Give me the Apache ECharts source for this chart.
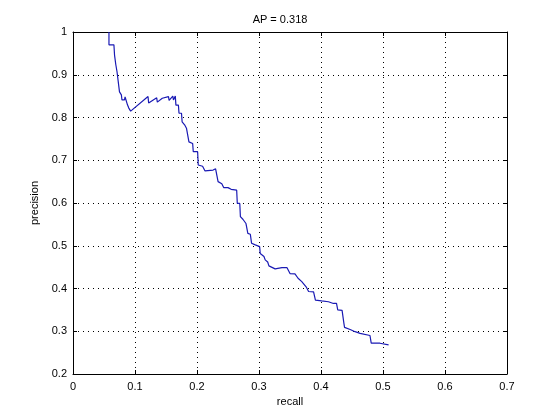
<!DOCTYPE html>
<html>
<head>
<meta charset="utf-8">
<script src="https://cdn.jsdelivr.net/npm/echarts@6/dist/echarts.min.js"></script>
<style>html,body{margin:0;padding:0;background:#fff;}#c{width:560px;height:420px;}</style>
</head>
<body>
<div id="c"></div>
<script>
const chartTitle = 'AP = 0.318';
const xLabel = 'recall';
const yLabel = 'precision';
const xTicks = [0, 0.1, 0.2, 0.3, 0.4, 0.5, 0.6, 0.7];
const yTicks = [0.2, 0.3, 0.4, 0.5, 0.6, 0.7, 0.8, 0.9, 1];
const recall = [0.058,0.058,0.066,0.067,0.069,0.069,0.071,0.074,0.075,0.078,0.079,0.083,0.084,0.087,0.088,0.090,0.093,0.094,
  0.121,0.122,0.135,0.136,0.144,0.154,0.155,0.161,0.162,0.165,0.166,0.170,0.171,0.175,0.176,0.180,0.183,0.186,0.187,0.193,0.194,
  0.201,0.202,0.209,0.213,0.226,0.230,0.233,0.234,0.240,0.243,0.250,0.255,0.264,0.265,0.269,0.270,0.274,0.279,0.281,0.282,0.286,
  0.288,0.294,0.301,0.302,0.308,0.310,0.314,0.316,0.326,0.337,0.345,0.347,0.350,0.358,0.363,0.369,0.376,0.380,0.388,0.391,0.401,
  0.412,0.420,0.425,0.427,0.434,0.437,0.438,0.447,0.455,0.463,0.479,0.481,0.495,0.509];
const precision = [1.0,0.970,0.970,0.946,0.946,0.924,0.907,0.907,0.860,0.853,0.841,0.841,0.848,0.848,0.829,0.822,0.815,0.815,
  0.849,0.834,0.846,0.836,0.845,0.849,0.840,0.850,0.841,0.850,0.829,0.829,0.810,0.810,0.790,0.783,0.775,0.774,0.743,0.739,0.720,
  0.720,0.689,0.686,0.675,0.677,0.680,0.680,0.650,0.645,0.636,0.636,0.632,0.630,0.599,0.599,0.568,0.562,0.552,0.552,0.529,0.527,
  0.506,0.502,0.498,0.482,0.475,0.467,0.462,0.453,0.446,0.449,0.449,0.450,0.435,0.434,0.424,0.416,0.404,0.393,0.392,0.373,0.371,
  0.369,0.365,0.365,0.350,0.349,0.318,0.309,0.304,0.299,0.295,0.290,0.272,0.272,0.268];

const font = '"Liberation Sans", Arial, sans-serif';
const pts = recall.map((r, i) => [r, precision[i]]);
const chart = echarts.init(document.getElementById('c'), null, {renderer: 'canvas'});
const fmt = v => String(Math.round(v * 10) / 10);
const baseX = {
  type: 'value', min: 0, max: 0.7, interval: 0.1,
  axisLine: {show: true, onZero: false, lineStyle: {color: '#000', width: 1}},
  axisTick: {show: true, inside: true, length: 4, lineStyle: {color: '#000'}},
};
const baseY = {
  type: 'value', min: 0.2, max: 1, interval: 0.1,
  axisLine: {show: true, onZero: false, lineStyle: {color: '#000', width: 1}},
  axisTick: {show: true, inside: true, length: 4, lineStyle: {color: '#000'}},
};
chart.setOption({
  animation: false,
  backgroundColor: '#fff',
  title: {text: chartTitle, left: 'center', top: 9, textStyle: {fontFamily: font, fontSize: 11, fontWeight: 'normal', color: '#000'}},
  grid: {left: 73, right: 53, top: 32, bottom: 46, containLabel: false},
  xAxis: [
    Object.assign({}, baseX, {
      position: 'bottom',
      name: xLabel, nameLocation: 'middle', nameGap: 22,
      nameTextStyle: {fontFamily: font, fontSize: 11, color: '#000'},
      axisLabel: {show: true, margin: 7, fontFamily: font, fontSize: 11, color: '#000', formatter: fmt},
      splitLine: {show: true, lineStyle: {color: '#000', type: [1, 4], width: 1}}
    }),
    Object.assign({}, baseX, {position: 'top', axisLabel: {show: false}, splitLine: {show: false}})
  ],
  yAxis: [
    Object.assign({}, baseY, {
      position: 'left',
      name: yLabel, nameLocation: 'middle', nameGap: 22,
      nameTextStyle: {fontFamily: font, fontSize: 11, color: '#000'},
      axisLabel: {show: true, margin: 6, fontFamily: font, fontSize: 11, color: '#000', formatter: fmt},
      splitLine: {show: true, lineStyle: {color: '#000', type: [1, 4], width: 1}}
    }),
    Object.assign({}, baseY, {position: 'right', axisLabel: {show: false}, splitLine: {show: false}})
  ],
  series: [{
    type: 'line', data: pts, showSymbol: false, symbol: 'none',
    lineStyle: {color: '#1a1ab4', width: 1.2}, xAxisIndex: 0, yAxisIndex: 0, z: 5
  }]
});
</script>
</body>
</html>
